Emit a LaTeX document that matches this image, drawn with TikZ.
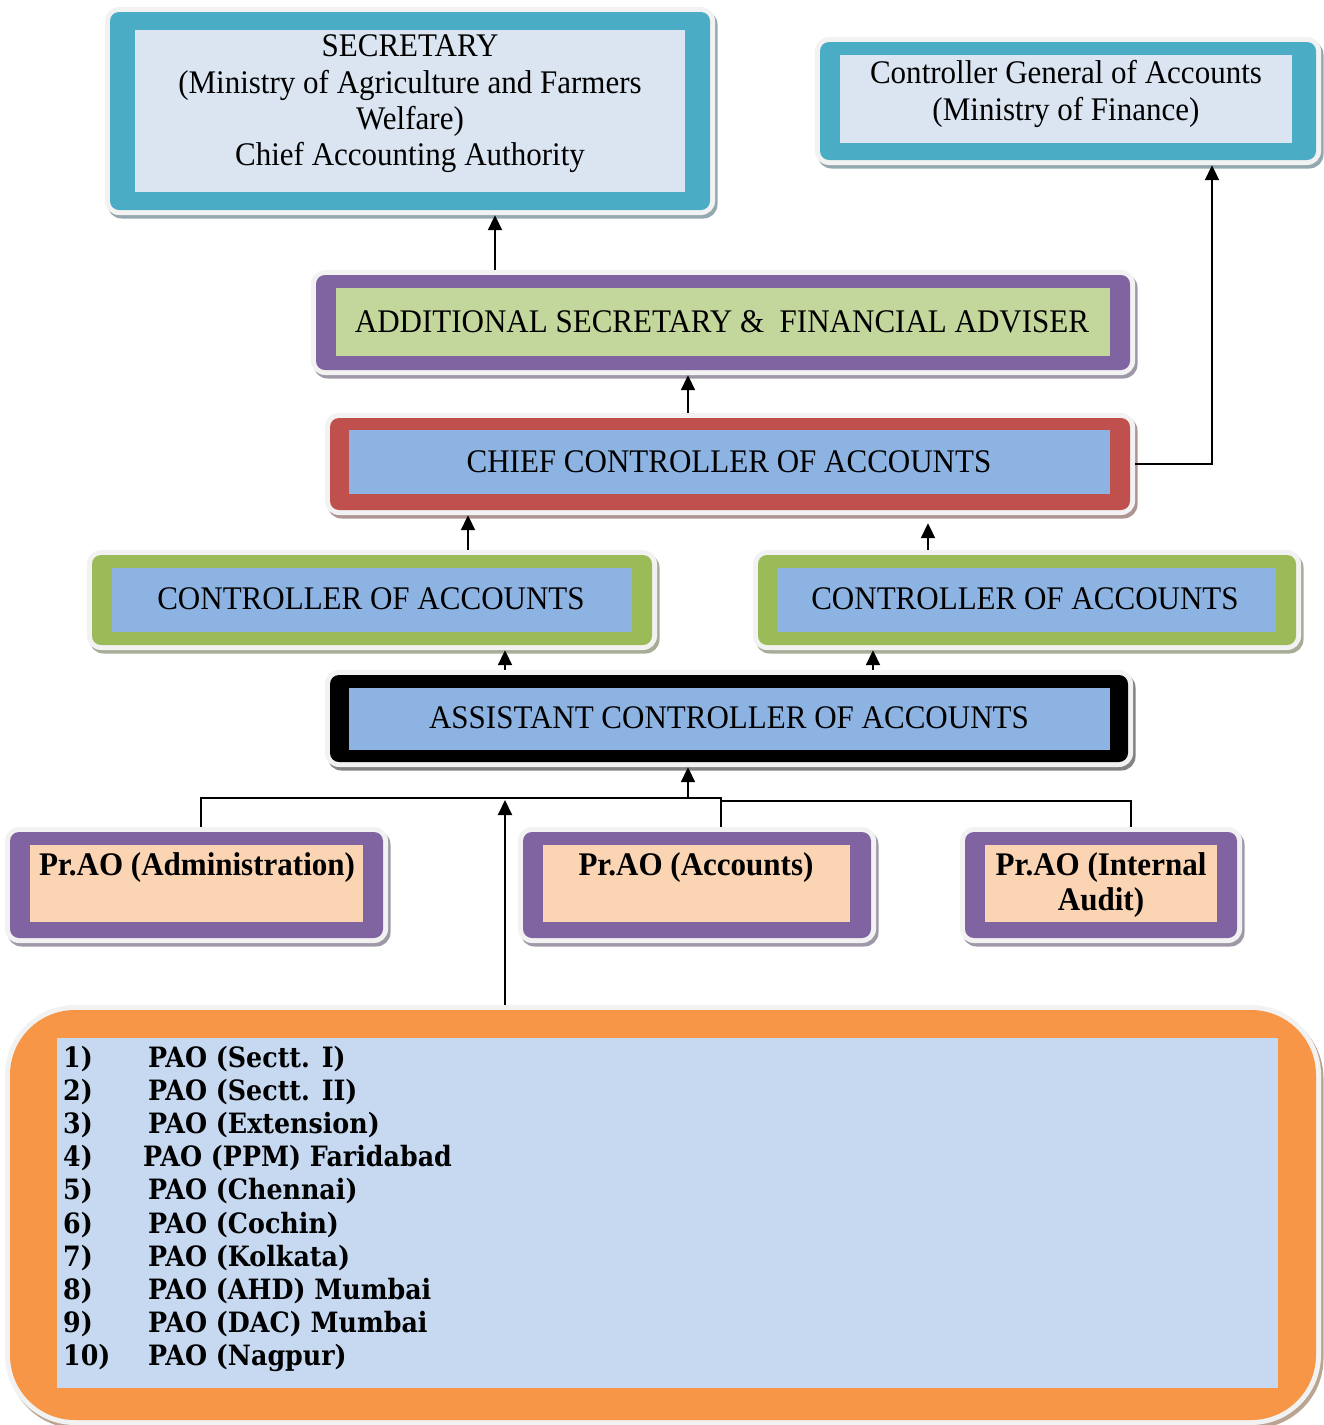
\documentclass[tikz,border=0pt]{standalone}
\usepackage{fontspec}
\setmainfont[FakeStretch=0.94]{Liberation Serif}
\newfontfamily\paofont[FakeStretch=0.905]{DejaVu Serif}
\usetikzlibrary{arrows.meta,shadows,fit}
\definecolor{tealb}{HTML}{4BACC6}
\definecolor{lightblue}{HTML}{DBE5F1}
\definecolor{purp}{HTML}{8064A2}
\definecolor{olivel}{HTML}{C3D69B}
\definecolor{redb}{HTML}{C0504D}
\definecolor{midblue}{HTML}{8DB3E2}
\definecolor{greenb}{HTML}{9BBB59}
\definecolor{peach}{HTML}{FBD4B4}
\definecolor{orangeb}{HTML}{F79646}
\definecolor{paleblue}{HTML}{C6D9F1}
\definecolor{framegray}{HTML}{F2F2F2}
\newcommand{\orgbox}[7]{%
  \node[frame=#4, fit={(#2) (#3)}] (#1) {};
  \fill[#4, rounded corners=9pt] (#2) rectangle (#3);
  \fill[#5] (#6) rectangle (#7);
}
\begin{document}
\begin{tikzpicture}[x=1pt,y=-1pt,
  frame/.style={fill=framegray, rounded corners=14pt, inner sep=5pt,
    drop shadow={shadow xshift=2.5pt, shadow yshift=-3.5pt, fill=#1!30!gray!75, opacity=1}},
  lbl/.style={font=\fontsize{33}{36.3}\selectfont, align=center, inner sep=0pt},
  blbl/.style={font=\fontsize{33}{35}\selectfont\bfseries, align=center, inner sep=0pt},
  item/.style={font=\paofont\bfseries\fontsize{28}{33}\selectfont, inner sep=0pt, anchor=base west},
  ln/.style={line width=1.4pt},
  arr/.style={line width=2pt, -{Triangle[length=15pt,width=14pt]}}]
\useasboundingbox (0,0) rectangle (1324,1425);

% boxes
\orgbox{sec}{110,12}{710,210}{tealb}{lightblue}{135,30}{685,192}
\node[lbl] (secT) at (410,104) {SECRETARY\\(Ministry of Agriculture and Farmers\\Welfare)\\Chief Accounting Authority};

\orgbox{cga}{820,42}{1316,160}{tealb}{lightblue}{840,55}{1292,143}
\node[lbl] (cgaT) at (1066,94) {Controller General of Accounts\\(Ministry of Finance)};

\orgbox{asfa}{316,275}{1130,370}{purp}{olivel}{336,288}{1110,356}
\node[lbl] (asfaT) at (722,321.5) {ADDITIONAL SECRETARY \&\ \ FINANCIAL ADVISER};

\orgbox{cca}{330,418}{1130,510}{redb}{midblue}{349,430}{1110,494}
\node[lbl] (ccaT) at (729,461.5) {CHIEF CONTROLLER OF ACCOUNTS};

\orgbox{coaL}{92,555}{652,645}{greenb}{midblue}{112,568}{632,632}
\node[lbl] (coaLT) at (371,598.5) {CONTROLLER OF ACCOUNTS};

\orgbox{coaR}{758,555}{1296,645}{greenb}{midblue}{777,568}{1276,632}
\node[lbl] (coaRT) at (1025,598.5) {CONTROLLER OF ACCOUNTS};

\orgbox{aca}{330,675}{1128,762}{black}{midblue}{349,688}{1110,750}
\node[lbl] (acaT) at (729,717.5) {ASSISTANT CONTROLLER OF ACCOUNTS};

\orgbox{adm}{10,832}{383,938}{purp}{peach}{30,845}{363,922}
\node[blbl, anchor=base] (admT) at (197,875) {Pr.AO (Administration)};

\orgbox{acc}{523,832}{871,938}{purp}{peach}{543,845}{850,922}
\node[blbl, anchor=base] (accT) at (696,875) {Pr.AO (Accounts)};

\orgbox{ia}{965,832}{1237,938}{purp}{peach}{985,845}{1217,922}
\node[blbl] (iaT) at (1101,885) {Pr.AO (Internal\\Audit)};

% bottom list box
\node[frame=orangeb, rounded corners=70pt, fit={(10,1010) (1316,1420)}] (pao) {};
\fill[orangeb, rounded corners=65pt] (10,1010) rectangle (1316,1420);
\fill[paleblue] (57,1038) rectangle (1278,1388);
\foreach \num/\px/\txt [count=\i] in {%
  1)/148/PAO (Sectt. I),
  2)/148/PAO (Sectt. II),
  3)/148/PAO (Extension),
  4)/143/PAO (PPM) Faridabad,
  5)/148/PAO (Chennai),
  6)/148/PAO (Cochin),
  7)/148/PAO (Kolkata),
  8)/148/PAO (AHD) Mumbai,
  9)/148/PAO (DAC) Mumbai,
  10)/148/PAO (Nagpur)}{
  \node[item] (num\i) at (63,{1067+(\i-1)*33.2}) {\num};
  \node[item] (itm\i) at (\px,{1067+(\i-1)*33.2}) {\txt};
}

% connectors
\coordinate (c495) at (495,0);
\coordinate (c688) at (688,0);
\coordinate (c1212) at (1212,0);
\coordinate (c468) at (468,0);
\coordinate (c928) at (928,0);
\coordinate (c505) at (505,0);
\coordinate (c873) at (873,0);
\coordinate (c201) at (201,0);
\coordinate (c721) at (721,0);
\coordinate (c1131) at (1131,0);
\coordinate (j) at (688,798);
\coordinate (j2) at (721,798);
\coordinate (j3) at (721,801);
\coordinate (pj) at (505,800);

\draw[arr] (asfa.north -| c495) -- (sec.south -| c495);
\draw[arr] (cca.north -| c688) -- (asfa.south -| c688);
\draw[arr] (cca.east) -| (cga.south -| c1212);
\draw[arr] (coaL.north -| c468) -- (cca.south -| c468);
\draw[arr, shorten >=8pt] (coaR.north -| c928) -- (cca.south -| c928);
\draw[arr] (aca.north -| c505) -- (coaL.south -| c505);
\draw[arr] (aca.north -| c873) -- (coaR.south -| c873);
\draw[ln] (adm.north -| c201) |- (j);
\draw[arr] (j) -- (aca.south -| j);
\draw[ln] (acc.north -| c721) -- (j2) -- (j);
\draw[ln] (ia.north -| c1131) |- (j3);
\draw[arr] (pao.north -| c505) -- (pj);
\end{tikzpicture}
\end{document}
